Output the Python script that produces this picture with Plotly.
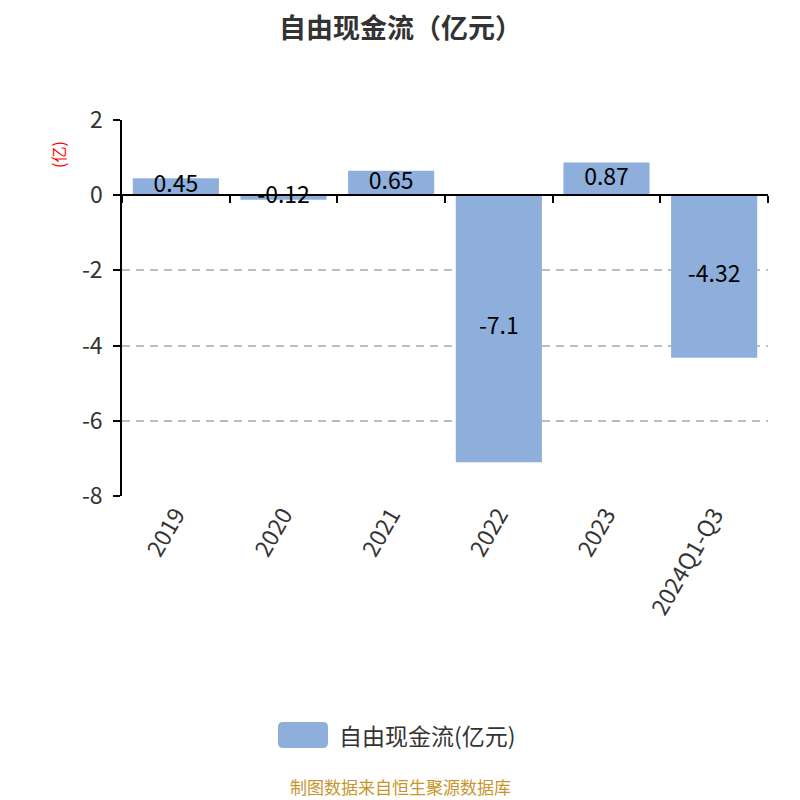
import plotly.graph_objects as go

categories = ["2019", "2020", "2021", "2022", "2023", "2024Q1-Q3"]
values = [0.45, -0.12, 0.65, -7.1, 0.87, -4.32]
label_texts = ["0.45", "-0.12", "0.65", "-7.1", "0.87", "-4.32"]
y_ticks = [2, 0, -2, -4, -6, -8]
y_tick_text = ["2", "0", "-2", "-4", "-6", "-8"]

BAR = "#8eaedb"
FONT = "Noto Sans CJK SC"

# the page adds an 8px body margin; the figure is sized so it fits the 800px window
W, H = 792, 792
L, R, T, B = 114, 32, 112, 304
PW, PH = W - L - R, H - T - B


def px(sx):  # screen x -> paper x
    return (sx - 8 - L) / PW


def py(sy):  # screen y -> paper y
    return (H - B - (sy - 8)) / PH


fig = go.Figure()
fig.add_trace(go.Bar(x=categories, y=values, marker=dict(color=BAR, line=dict(width=0)),
                     showlegend=False, hoverinfo="skip"))
fig.add_trace(go.Scatter(x=categories, y=[v / 2 for v in values], mode="text",
                         text=label_texts, textposition="middle center",
                         textfont=dict(size=23, color="#000000", family=FONT),
                         showlegend=False, hoverinfo="skip"))
# dummy trace for the zero-line axis with boundary ticks
fig.add_trace(go.Scatter(x=categories, y=[None] * len(categories), xaxis="x2",
                         showlegend=False, hoverinfo="skip"))

fig.update_layout(
    width=W, height=H,
    paper_bgcolor="white", plot_bgcolor="white",
    margin=dict(l=L, r=R, t=T, b=B, autoexpand=False),
    bargap=0.2,
    font=dict(family=FONT, color="#333333"),
    xaxis=dict(type="category", showline=False, ticks="", showgrid=False, zeroline=False,
               tickangle=-60, tickfont=dict(size=23, color="#333333", family=FONT)),
    xaxis2=dict(type="category", overlaying="x", matches="x", anchor="free", position=0.8,
                side="bottom", showline=True, linecolor="#000000", linewidth=1.5,
                ticks="outside", tickson="boundaries", ticklen=7, tickcolor="#000000",
                tickwidth=1.5, showticklabels=False, showgrid=False, zeroline=False),
    yaxis=dict(range=[-8, 2], tickvals=y_ticks, ticktext=y_tick_text,
               showline=True, linecolor="#000000", linewidth=1.5,
               ticks="outside", ticklen=7, tickcolor="#000000", tickwidth=1.5,
               ticklabelstandoff=6,
               showgrid=True, gridcolor="#bdbdbd", griddash="8px,6px", gridwidth=1.5,
               zeroline=False, tickfont=dict(size=23, color="#333333", family=FONT)),
)

# title
fig.add_annotation(text="<b>自由现金流（亿元）</b>", xref="paper", yref="paper",
                   x=px(400), y=py(26), xanchor="center", yanchor="middle", showarrow=False,
                   font=dict(size=27, color="#333333", family=FONT))

fig.add_annotation(text="(亿)", xref="paper", yref="paper", x=px(58), y=py(155),
                   xanchor="center", yanchor="middle", textangle=-90,
                   showarrow=False, font=dict(size=16, color="#ff0000", family=FONT))

# legend swatch (rounded) and text
x0, x1, y0, y1 = px(278), px(328), py(748), py(722)
rx, ry = 5 / PW, 5 / PH
path = (f"M {x0 + rx},{y0} L {x1 - rx},{y0} Q {x1},{y0} {x1},{y0 + ry} "
        f"L {x1},{y1 - ry} Q {x1},{y1} {x1 - rx},{y1} L {x0 + rx},{y1} "
        f"Q {x0},{y1} {x0},{y1 - ry} L {x0},{y0 + ry} Q {x0},{y0} {x0 + rx},{y0} Z")
fig.add_shape(type="path", xref="paper", yref="paper", path=path,
              fillcolor=BAR, line=dict(width=0))
fig.add_annotation(text="自由现金流(亿元)", xref="paper", yref="paper",
                   x=px(337), y=py(735), xanchor="left", yanchor="middle",
                   showarrow=False, font=dict(size=23, color="#333333", family=FONT))
fig.add_annotation(text="制图数据来自恒生聚源数据库", xref="paper", yref="paper",
                   x=px(400), y=py(786), xanchor="center", yanchor="middle",
                   showarrow=False, font=dict(size=17, color="#c8952c", family=FONT))

fig.write_html("out.html")
